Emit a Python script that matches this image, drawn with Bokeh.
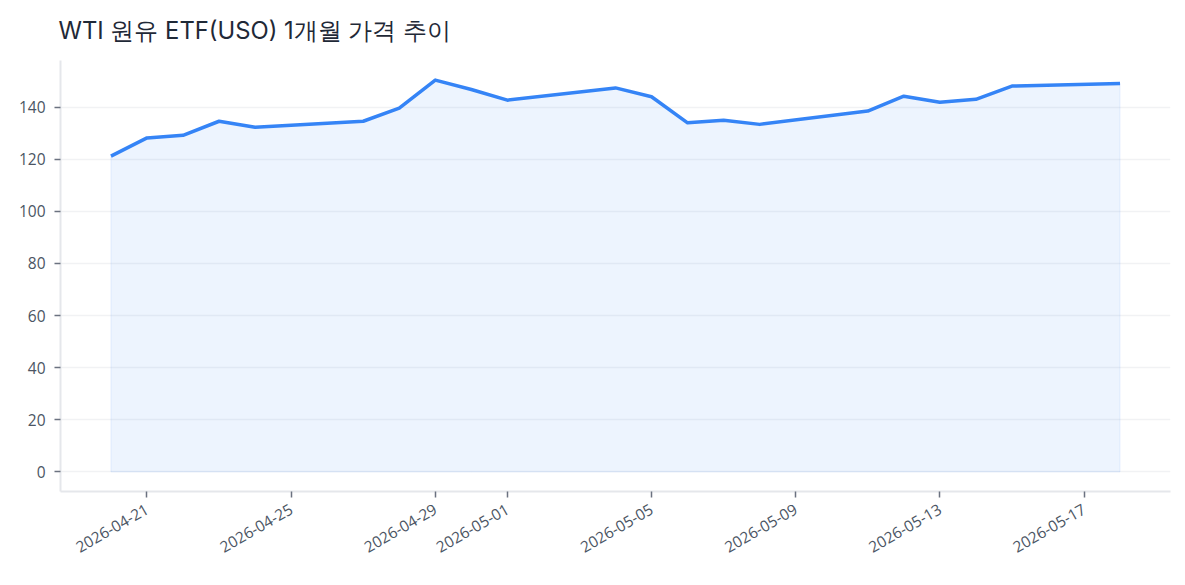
import numpy as np
import pandas as pd
from math import pi
from bokeh.plotting import figure
from bokeh.models import ColumnDataSource, FixedTicker, DatetimeTickFormatter, Range1d
from bokeh.embed import file_html
from bokeh.resources import INLINE

# ---- data ----
dates = ["2026-04-20", "2026-04-21", "2026-04-22", "2026-04-23", "2026-04-24",
         "2026-04-27", "2026-04-28", "2026-04-29", "2026-04-30", "2026-05-01",
         "2026-05-04", "2026-05-05", "2026-05-06", "2026-05-07", "2026-05-08",
         "2026-05-11", "2026-05-12", "2026-05-13", "2026-05-14", "2026-05-15",
         "2026-05-18"]
prices = [121.2, 128.2, 129.2, 134.6, 132.3,
          134.6, 139.6, 150.4, 146.8, 142.7,
          147.4, 144.0, 134.0, 135.0, 133.4,
          138.5, 144.2, 141.9, 143.0, 148.1,
          149.1]
tick_dates = ["2026-04-21", "2026-04-25", "2026-04-29", "2026-05-01",
              "2026-05-05", "2026-05-09", "2026-05-13", "2026-05-17"]
y_ticks = [0, 20, 40, 60, 80, 100, 120, 140]
title_text = "WTI 원유 ETF(USO) 1개월 가격 추이"

x = pd.to_datetime(dates)
src = ColumnDataSource(dict(x=x, y=prices, zero=[0] * len(prices)))

xmin, xmax = x.min(), x.max()
span = xmax - xmin
pad = span * 0.05
ymax = max(prices)
ypad = ymax * 0.05

p = figure(width=1185, height=585, x_axis_type="datetime",
           output_backend="svg", toolbar_location=None,
           x_range=Range1d(xmin - pad, xmax + pad),
           y_range=Range1d(-ypad, ymax + ypad),
           min_border_left=60, min_border_right=15,
           min_border_top=60, min_border_bottom=94)

p.title.text = title_text
p.title.text_font = "Inter"
p.title.text_font_size = "23.8px"
p.title.text_font_style = "normal"
p.title.text_color = "#1f2937"
p.title.offset = -2
p.title.standoff = 27
p.title.vertical_align = "top"

# fill area
p.varea(x="x", y1="zero", y2="y", source=src, fill_color="#3b82f6", fill_alpha=0.09)
poly_x = list(x) + list(x[::-1])
poly_y = list(prices) + [0] * len(prices)
p.patch(poly_x, poly_y, fill_alpha=0, line_color="#3b82f6", line_alpha=0.1, line_width=1)
p.line(x="x", y="y", source=src, line_color="#3584f6", line_width=3.5,
       line_join="round")

# axes styling
p.outline_line_color = None
p.background_fill_color = "white"
p.border_fill_color = "white"

p.xgrid.grid_line_color = None
p.ygrid.grid_line_color = "#f1f2f4"
p.ygrid.grid_line_width = 1.5
p.ygrid.ticker = FixedTicker(ticks=y_ticks)

p.yaxis.ticker = FixedTicker(ticks=y_ticks)
p.xaxis.ticker = FixedTicker(ticks=[pd.Timestamp(d).value / 1e6 for d in tick_dates])
p.xaxis.formatter = DatetimeTickFormatter(days="%Y-%m-%d", months="%Y-%m-%d")
p.xaxis.major_label_orientation = pi / 6

for ax in (p.xaxis[0], p.yaxis[0]):
    ax.axis_line_color = "#e5e7eb"
    ax.axis_line_width = 2
    ax.major_tick_line_color = "#6b7280"
    ax.major_tick_line_width = 1.5
    ax.major_tick_in = 0
    ax.major_tick_out = 6
    ax.minor_tick_line_color = None
    ax.major_label_text_color = "#4b5563"
    ax.major_label_text_font = "Open Sans"
    ax.major_label_text_font_size = "15.5px"

p.yaxis.major_label_standoff = 9
p.xaxis.major_label_standoff = 10

open("out.html", "w").write(file_html(p, INLINE))
